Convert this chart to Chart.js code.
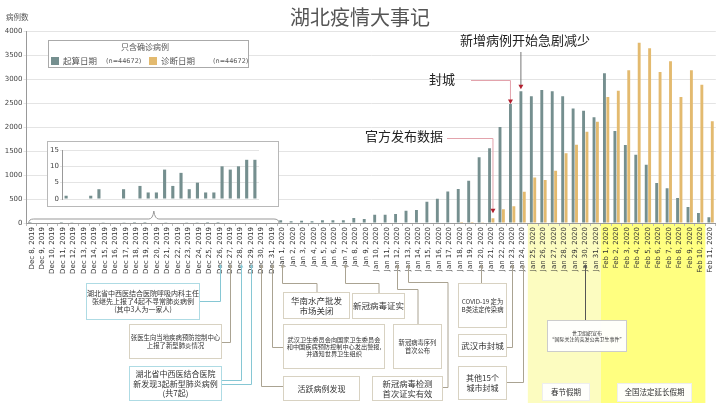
<!DOCTYPE html>
<html>
<head>
<meta charset="utf-8">
<script src="https://cdn.jsdelivr.net/npm/chart.js@4.4.1/dist/chart.umd.min.js"></script>
<style>
  body { margin: 0; background: #fff; }
  #wrap { position: relative; width: 720px; height: 404px; }
  #inset { position: absolute; left: 47px; top: 141px; width: 230px; height: 64px; border: 1px solid #b8b8b8; background: #fff; }
</style>
</head>
<body>
<div id="wrap">
  <canvas id="main" width="720" height="404"></canvas>
  <div id="inset"><canvas id="insetc" width="230" height="64"></canvas></div>
</div>
<script>
// categories
const dates = [
  'Dec 8, 2019','Dec 9, 2019','Dec 10, 2019','Dec 11, 2019','Dec 12, 2019','Dec 13, 2019','Dec 14, 2019','Dec 15, 2019',
  'Dec 16, 2019','Dec 17, 2019','Dec 18, 2019','Dec 19, 2019','Dec 20, 2019','Dec 21, 2019','Dec 22, 2019','Dec 23, 2019',
  'Dec 24, 2019','Dec 25, 2019','Dec 26, 2019','Dec 27, 2019','Dec 28, 2019','Dec 29, 2019','Dec 30, 2019','Dec 31, 2019',
  'Jan 1, 2020','Jan 2, 2020','Jan 3, 2020','Jan 4, 2020','Jan 5, 2020','Jan 6, 2020','Jan 7, 2020','Jan 8, 2020',
  'Jan 9, 2020','Jan 10, 2020','Jan 11, 2020','Jan 12, 2020','Jan 13, 2020','Jan 14, 2020','Jan 15, 2020','Jan 16, 2020',
  'Jan 17, 2020','Jan 18, 2020','Jan 19, 2020','Jan 20, 2020','Jan 21, 2020','Jan 22, 2020','Jan 23, 2020','Jan 24, 2020',
  'Jan 25, 2020','Jan 26, 2020','Jan 27, 2020','Jan 28, 2020','Jan 29, 2020','Jan 30, 2020','Jan 31, 2020',
  'Feb 1, 2020','Feb 2, 2020','Feb 3, 2020','Feb 4, 2020','Feb 5, 2020','Feb 6, 2020','Feb 7, 2020','Feb 8, 2020',
  'Feb 9, 2020','Feb 10, 2020','Feb 11, 2020'
];

// 起算日期 (onset)
const onset = [
  1,0,0,1,3,0,0,3, 0,4,2,2,9,4,8,3, 5,2,2,10,9,10,12,12,
  56,35,48,35,56,56,56,104, 85,170,170,188,257,271,444,505,
  658,708,878,1370,1555,2000,2480,2743, 2640,2771,2743,2640,2385,2340,2201,
  3118,1917,1625,1420,1215,833,725,521, 333,208,118
];

// 诊断日期 (diagnosis)
const diagnosis = [
  0,0,0,0,0,0,0,0, 0,0,0,0,0,0,0,0, 0,0,0,0,0,0,0,0,
  0,0,0,0,0,0,0,0, 0,0,0,0,0,0,0,0,
  0,20,20,15,100,285,350,650, 948,896,1090,1455,1628,1900,2111,
  2625,2757,3181,3757,3639,3146,3368,2625, 3181,2882,2118
];

const yTicks = [0, 500, 1000, 1500, 2000, 2500, 3000, 3500, 4000];
const insetTicks = [0, 5, 10, 15];
const decCount = 24;

const TEAL = '#758f8f', ORANGE = '#e3ba6f';
const CJK = '"Noto Sans CJK SC", "Noto Sans", sans-serif';
const LAT = '"DejaVu Sans", Verdana, sans-serif';
const BLUE_LINE = '#86c7d4', BLUE_BOX = '#aedbe4';
const GREY_LINE = '#aaa392', GREY_BOX = '#d8d2c2';

// annotation boxes below the axis
const events = [
  { date: 'Dec 26, 2019', blue: true, box: [86, 283, 114, 37], size: 7,
    lines: ['湖北省中西医结合医院呼吸内科主任', '张继先上报了4起不寻常肺炎病例', '(其中3人为一家人)'],
    route: x => [[x, 301], [200, 301]] },
  { date: 'Dec 27, 2019', blue: false, box: [129, 324, 93, 35], size: 6.4,
    lines: ['张医生向当地疾病预防控制中心', '上报了新型肺炎情况'],
    route: x => [[x, 342], [222, 342]] },
  { date: 'Dec 28, 2019', blue: true, box: [129, 366, 93, 35], size: 8,
    lines: ['湖北省中西医结合医院', '新发现3起新型肺炎病例', '(共7起)'],
    route: x => [[x, 380], [222, 380]] },
  { date: 'Dec 29, 2019', blue: true, box: null, route: x => [[x, 384], [222, 384]] },
  { date: 'Dec 30, 2019', blue: false, box: [283, 376, 77, 25], size: 8,
    lines: ['活跃病例发现'],
    route: x => [[x, 386], [283, 386]] },
  { date: 'Dec 31, 2019', blue: false, box: [283, 324, 102, 45], size: 6.2,
    lines: ['武汉卫生委员会向国家卫生委员会', '和中国疾病预防控制中心发出警报,', '并通知世界卫生组织'],
    route: x => [[x, 347], [283, 347]] },
  { date: 'Jan 1, 2020', blue: false, box: [283, 292, 67, 27], size: 8.5,
    lines: ['华南水产批发', '市场关闭'],
    route: x => [[x, 283], [317, 283], [317, 292]] },
  { date: 'Jan 7, 2020', blue: false, box: [352, 293, 53, 26], size: 8.5,
    lines: ['新冠病毒证实'],
    route: x => [[x, 283], [379, 283], [379, 293]] },
  { date: 'Jan 12, 2020', blue: false, box: [393, 324, 49, 45], size: 6.3,
    lines: ['新冠病毒序列', '首次公布'],
    route: x => [[x, 289], [418, 289], [418, 324]] },
  { date: 'Jan 13, 2020', blue: false, box: [372, 376, 71, 25], size: 8.3,
    lines: ['新冠病毒检测', '首次证实有效'],
    route: x => [[x, 282], [448, 282], [448, 387], [443, 387]] },
  { date: 'Jan 20, 2020', blue: false, box: [458, 283, 49, 45], size: 6.3,
    lines: ['COVID-19 定为', 'B类法定传染病'],
    route: x => [[x, 283]] },
  { date: 'Jan 23, 2020', blue: false, box: [458, 334, 49, 23], size: 8.5,
    lines: ['武汉市封城'],
    route: x => [[x, 347], [507, 347]] },
  { date: 'Jan 24, 2020', blue: false, box: [458, 366, 49, 34], size: 8,
    lines: ['其他15个', '城市封城'],
    route: x => [[x, 382], [507, 382]] },
  { date: 'Jan 30, 2020', blue: false, dark: true, box: [547, 320, 80, 32], size: 5,
    lines: ['世卫组织宣布', '“国际关注的突发公共卫生事件”'],
    route: x => [[x, 320]] }
];

const holidays = [
  { from: 'Jan 25, 2020', to: 'Jan 31, 2020', color: '#fcfcc0', label: '春节假期', box: [542, 383, 48, 18] },
  { from: 'Feb 1, 2020', to: 'Feb 10, 2020', color: '#ffff80', label: '全国法定延长假期', box: [617, 383, 75, 19] }
];

const xAt = (chart, label) => chart.scales.x.getPixelForValue(dates.indexOf(label));
const yAt = (chart, v) => chart.scales.y.getPixelForValue(v);

function arrowUp(ctx, x, y, color) {
  ctx.fillStyle = color;
  ctx.beginPath();
  ctx.moveTo(x, y); ctx.lineTo(x - 1.8, y + 3.5); ctx.lineTo(x + 1.8, y + 3.5);
  ctx.closePath(); ctx.fill();
}
function arrowDown(ctx, x, y, color) {
  ctx.fillStyle = color;
  ctx.beginPath();
  ctx.moveTo(x, y); ctx.lineTo(x - 2.5, y - 4.5); ctx.lineTo(x + 2.5, y - 4.5);
  ctx.closePath(); ctx.fill();
}

function textBox(ctx, box, lines, size, border) {
  const [bx, by, bw, bh] = box;
  ctx.fillStyle = 'rgba(255,255,255,0.95)';
  ctx.fillRect(bx, by, bw, bh);
  ctx.strokeStyle = border;
  ctx.lineWidth = 1;
  ctx.strokeRect(bx + 0.5, by + 0.5, bw - 1, bh - 1);
  ctx.fillStyle = '#333';
  ctx.font = size + 'px ' + CJK;
  ctx.textAlign = 'center';
  ctx.textBaseline = 'middle';
  const lh = size * 1.18;
  const y0 = by + bh / 2 - (lines.length - 1) * lh / 2;
  lines.forEach((l, i) => ctx.fillText(l, bx + bw / 2, y0 + i * lh));
}

const decor = {
  id: 'decor',
  beforeDraw(chart) {
    const ctx = chart.ctx;
    const w = chart.scales.x.width / dates.length;
    ctx.save();
    holidays.forEach(h => {
      const x0 = xAt(chart, h.from) - w / 2, x1 = xAt(chart, h.to) + w / 2;
      ctx.fillStyle = h.color;
      ctx.fillRect(x0, chart.chartArea.bottom + 1, x1 - x0, 402 - chart.chartArea.bottom);
    });
    ctx.restore();
  },
  afterDraw(chart) {
    const ctx = chart.ctx;
    ctx.save();

    // title + y title
    ctx.fillStyle = '#555';
    ctx.textAlign = 'center'; ctx.textBaseline = 'middle';
    ctx.font = '20px ' + CJK;
    ctx.fillText('湖北疫情大事记', 360, 17);
    ctx.font = '7.5px ' + CJK;
    ctx.textAlign = 'left';
    ctx.fillText('病例数', 6, 17);

    // legend
    ctx.strokeStyle = '#aaa'; ctx.lineWidth = 1;
    ctx.fillStyle = '#fff';
    ctx.fillRect(48, 40, 201, 28);
    ctx.strokeRect(48.5, 40.5, 200, 27);
    ctx.fillStyle = '#555';
    ctx.textAlign = 'center';
    ctx.font = '8px ' + CJK;
    ctx.fillText('只含确诊病例', 145, 47);
    const items = [[51, TEAL, '起算日期', 106], [149, ORANGE, '诊断日期', 213]];
    items.forEach(([x, c, t, nx]) => {
      ctx.fillStyle = c; ctx.fillRect(x, 57, 8, 8);
      ctx.fillStyle = '#555'; ctx.textAlign = 'left';
      ctx.font = '8.5px ' + CJK; ctx.fillText(t, x + 12, 61);
      ctx.font = '6.5px ' + LAT; ctx.fillText('(n=44672)', nx, 61);
    });

    // top call-outs
    const red = '#b3202f';
    ctx.font = '13px ' + CJK; ctx.fillStyle = '#222'; ctx.textAlign = 'center';
    ctx.fillText('新增病例开始急剧减少', 525, 40);
    ctx.fillText('封城', 442, 79);
    ctx.fillText('官方发布数据', 404, 136);

    let x = xAt(chart, 'Jan 24, 2020') - 1.7;
    let top = yAt(chart, onset[dates.indexOf('Jan 24, 2020')]);
    ctx.strokeStyle = '#777'; ctx.lineWidth = 1;
    ctx.beginPath(); ctx.moveTo(x, 52); ctx.lineTo(x, top - 6); ctx.stroke();
    arrowDown(ctx, x, top - 2, red);

    x = xAt(chart, 'Jan 23, 2020') - 1.7;
    top = yAt(chart, onset[dates.indexOf('Jan 23, 2020')]);
    ctx.strokeStyle = '#e3a3ac';
    ctx.beginPath(); ctx.moveTo(471, 80.5); ctx.lineTo(x, 80.5); ctx.lineTo(x, top - 4); ctx.stroke();
    arrowDown(ctx, x, top, red);

    x = xAt(chart, 'Jan 21, 2020') + 1.7;
    top = yAt(chart, diagnosis[dates.indexOf('Jan 21, 2020')]);
    ctx.beginPath(); ctx.moveTo(447, 138.5); ctx.lineTo(x, 138.5); ctx.lineTo(x, top - 9); ctx.stroke();
    arrowDown(ctx, x, top - 5, red);

    // brace under the inset
    const bl = xAt(chart, dates[0]) - 3, br = xAt(chart, dates[decCount - 1]) + 7, bm = (bl + br) / 2;
    const by = chart.chartArea.bottom;
    ctx.strokeStyle = '#999';
    ctx.beginPath();
    ctx.moveTo(bl, by);
    ctx.quadraticCurveTo(bl, by - 4, bl + 5, by - 4);
    ctx.lineTo(bm - 5, by - 4);
    ctx.quadraticCurveTo(bm - 1, by - 4, bm, by - 12);
    ctx.quadraticCurveTo(bm + 1, by - 4, bm + 5, by - 4);
    ctx.lineTo(br - 5, by - 4);
    ctx.quadraticCurveTo(br, by - 4, br, by);
    ctx.stroke();

    // connectors and boxes
    events.forEach(e => {
      const tx = Math.round(xAt(chart, e.date)) + 0.5;
      const col = e.dark ? '#555' : (e.blue ? BLUE_LINE : GREY_LINE);
      ctx.strokeStyle = col; ctx.lineWidth = 1;
      ctx.beginPath();
      ctx.moveTo(tx, 267);
      e.route(tx).forEach(([px, py]) => ctx.lineTo(px, py + 0.5));
      ctx.stroke();
      arrowUp(ctx, tx, 264, col);
    });
    events.forEach(e => {
      if (e.box) textBox(ctx, e.box, e.lines, e.size, e.dark ? '#ccc' : (e.blue ? BLUE_BOX : GREY_BOX));
    });
    holidays.forEach(h => textBox(ctx, h.box, [h.label], 7.5, '#eee'));

    ctx.restore();
  }
};

new Chart(document.getElementById('main'), {
  type: 'bar',
  data: {
    labels: dates,
    datasets: [
      { label: '起算日期', data: onset, backgroundColor: TEAL },
      { label: '诊断日期', data: diagnosis, backgroundColor: ORANGE }
    ]
  },
  options: {
    responsive: false,
    animation: false,
    devicePixelRatio: 1,
    categoryPercentage: 0.65,
    barPercentage: 0.85,
    layout: { padding: { top: 31, right: 1, left: 0, bottom: 0 } },
    plugins: { legend: { display: false }, tooltip: { enabled: false } },
    scales: {
      x: {
        afterFit: s => { s.height = 181; },
        grid: { drawOnChartArea: false, tickLength: 3, color: '#bbb' },
        border: { color: '#999' },
        ticks: { autoSkip: false, maxRotation: 90, minRotation: 90, padding: 1,
                 font: { size: 7, family: LAT }, color: '#333' }
      },
      y: {
        min: 0, max: 4000,
        afterFit: s => { s.width = 26.5; },
        afterBuildTicks: s => { s.ticks = yTicks.map(v => ({ value: v })); },
        grid: { color: '#e4e4e4', tickLength: 3 },
        border: { color: '#999' },
        ticks: { padding: 1, font: { size: 7, family: LAT }, color: '#444', callback: v => String(v) }
      }
    }
  },
  plugins: [decor]
});

new Chart(document.getElementById('insetc'), {
  type: 'bar',
  data: {
    labels: dates.slice(0, decCount),
    datasets: [{ data: onset.slice(0, decCount), backgroundColor: TEAL }]
  },
  options: {
    responsive: false,
    animation: false,
    devicePixelRatio: 1,
    categoryPercentage: 1,
    barPercentage: 0.38,
    layout: { padding: { top: 8, right: 19, left: 0, bottom: 7 } },
    plugins: { legend: { display: false }, tooltip: { enabled: false } },
    scales: {
      x: { display: false },
      y: {
        min: 0, max: 15,
        afterFit: s => { s.width = 14; },
        afterBuildTicks: s => { s.ticks = insetTicks.map(v => ({ value: v })); },
        grid: { color: '#e4e4e4', tickLength: 2 },
        border: { color: '#999' },
        ticks: { padding: 1, font: { size: 7, family: LAT }, color: '#444', callback: v => String(v) }
      }
    }
  }
});
</script>
</body>
</html>
